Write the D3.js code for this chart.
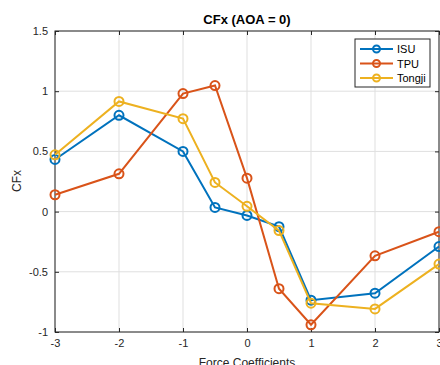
<!DOCTYPE html>
<html>
<head>
<meta charset="utf-8">
<script src="https://cdn.jsdelivr.net/npm/d3@7"></script>
<style>
  body { margin: 0; background: #fff; }
  svg { font-family: "Liberation Sans", Arial, sans-serif; }
  .grid line { stroke: #dfdfdf; stroke-width: 1; }
  .axis text { fill: #262626; font-size: 11px; }
  .axis path, .axis line { stroke: #262626; }
</style>
</head>
<body>
<svg id="chart" width="440" height="365"></svg>
<script>
// angle values along x
const xValues = [-3, -2, -1, -0.5, 0, 0.5, 1, 2, 3];
const seriesNames = ['ISU', 'TPU', 'Tongji'];
const isu = [0.433, 0.80, 0.50, 0.035, -0.032, -0.125, -0.736, -0.678, -0.29];
const tpu = [0.14, 0.314, 0.98, 1.047, 0.278, -0.64, -0.94, -0.367, -0.167];
const tongji = [0.472, 0.915, 0.772, 0.242, 0.044, -0.158, -0.761, -0.808, -0.436];
const xTicks = [-3, -2, -1, 0, 1, 2, 3];
const yTicks = [-1, -0.5, 0, 0.5, 1, 1.5];
const colors = ['#0072BD', '#D95319', '#EDB120'];

const svg = d3.select('#chart');
const margin = { top: 31, right: 2, bottom: 33, left: 55 };
const width = 440 - margin.left - margin.right;
const height = 365 - margin.top - margin.bottom;

const g = svg.append('g')
  .attr('transform', 'translate(' + margin.left + ',' + margin.top + ')');

const x = d3.scaleLinear().domain([-3, 3]).range([0, 384]);
const y = d3.scaleLinear().domain([-1, 1.5]).range([height, 0]);

// grid
g.append('g').attr('class', 'grid')
  .selectAll('line.v').data(xTicks).enter().append('line')
  .attr('x1', d => x(d)).attr('x2', d => x(d))
  .attr('y1', 0).attr('y2', height);
g.append('g').attr('class', 'grid')
  .selectAll('line.h').data(yTicks).enter().append('line')
  .attr('x1', 0).attr('x2', 384)
  .attr('y1', d => y(d)).attr('y2', d => y(d));

// axes box
g.append('rect')
  .attr('width', 384).attr('height', height)
  .attr('fill', 'none').attr('stroke', '#262626').attr('stroke-width', 1);

g.append('g').attr('class', 'axis')
  .attr('transform', 'translate(0,' + height + ')')
  .call(d3.axisBottom(x).tickValues(xTicks).tickSize(-4).tickPadding(7).tickFormat(d => String(d)))
  .call(s => s.select('.domain').remove());
g.append('g').attr('class', 'axis')
  .call(d3.axisLeft(y).tickValues(yTicks).tickSize(-4).tickPadding(7).tickFormat(d => String(d)))
  .call(s => s.select('.domain').remove());
g.append('g').attr('class', 'axis')
  .call(d3.axisTop(x).tickValues(xTicks).tickSize(-4).tickFormat(''))
  .call(s => s.select('.domain').remove());
g.append('g').attr('class', 'axis')
  .attr('transform', 'translate(384,0)')
  .call(d3.axisRight(y).tickValues(yTicks).tickSize(-4).tickFormat(''))
  .call(s => s.select('.domain').remove());

// lines + markers
const allSeries = [isu, tpu, tongji];
const line = d3.line().x((d, i) => x(xValues[i])).y(d => y(d));

allSeries.forEach((vals, k) => {
  g.append('path').datum(vals)
    .attr('d', line)
    .attr('fill', 'none')
    .attr('stroke', colors[k])
    .attr('stroke-width', 2);
  g.selectAll('.dot' + k).data(vals).enter().append('circle')
    .attr('class', 'dot' + k)
    .attr('cx', (d, i) => x(xValues[i]))
    .attr('cy', d => y(d))
    .attr('r', 4.5)
    .attr('fill', 'none')
    .attr('stroke', colors[k])
    .attr('stroke-width', 2);
});

// title & labels
svg.append('text')
  .attr('x', 247).attr('y', 24)
  .attr('text-anchor', 'middle')
  .attr('font-size', 13).attr('font-weight', 'bold')
  .attr('fill', '#000')
  .text('CFx (AOA = 0)');
svg.append('text')
  .attr('x', 247).attr('y', 367)
  .attr('text-anchor', 'middle')
  .attr('font-size', 12).attr('fill', '#262626')
  .text('Force Coefficients');
svg.append('text')
  .attr('transform', 'translate(21,181) rotate(-90)')
  .attr('text-anchor', 'middle')
  .attr('font-size', 12).attr('fill', '#262626')
  .text('CFx');

// legend
const leg = svg.append('g').attr('transform', 'translate(355,39)');
leg.append('rect')
  .attr('width', 75).attr('height', 48)
  .attr('fill', '#fff').attr('stroke', '#262626').attr('stroke-width', 1);
seriesNames.forEach((name, k) => {
  const ly = 10 + k * 14.5;
  leg.append('line')
    .attr('x1', 5).attr('x2', 38).attr('y1', ly).attr('y2', ly)
    .attr('stroke', colors[k]).attr('stroke-width', 2);
  leg.append('circle')
    .attr('cx', 21.5).attr('cy', ly).attr('r', 3.5)
    .attr('fill', 'none').attr('stroke', colors[k]).attr('stroke-width', 2);
  leg.append('text')
    .attr('x', 42).attr('y', ly + 4)
    .attr('font-size', 11).attr('fill', '#000')
    .text(name);
});
</script>
</body>
</html>
